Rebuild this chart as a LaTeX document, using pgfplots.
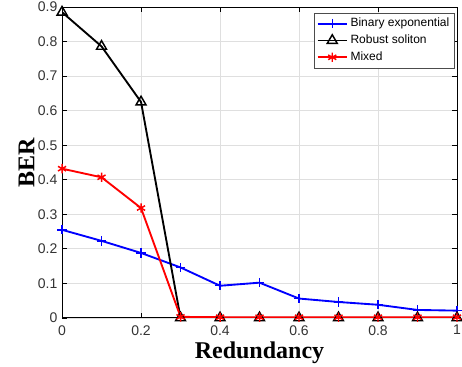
\documentclass[border=0pt]{standalone}
\usepackage{pgfplots}
\pgfplotsset{compat=1.18}
\usepackage{fontspec}
\setmainfont{Liberation Sans}
\newfontfamily\timesfont{Liberation Serif}
\begin{document}
\begin{tikzpicture}
\begin{axis}[
  scale only axis,
  width=296pt, height=233pt,
  xmin=0, xmax=1, ymin=0, ymax=0.9,
  xtick={0,0.2,0.4,0.6,0.8,1},
  ytick={0,0.1,0.2,0.3,0.4,0.5,0.6,0.7,0.8,0.9},
  xticklabels={0,0.2,0.4,0.6,0.8,1},
  yticklabels={0,0.1,0.2,0.3,0.4,0.5,0.6,0.7,0.8,0.9},
  tick align=inside,
  tick pos=both,
  major tick length=4pt,
  tick style={black, line width=0.5pt},
  grid=major,
  grid style={gray!25, line width=0.5pt},
  axis line style={black, line width=0.7pt},
  ticklabel style={font=\fontsize{10.5}{12}\selectfont, color=black!80},
  xticklabel style={yshift=-2pt},
  /pgf/number format/assume math mode=true,
  xlabel={\timesfont\bfseries Redundancy},
  ylabel={\timesfont\bfseries BER},
  xlabel style={font=\fontsize{18}{20}\selectfont, at={(axis description cs:0.5,-0.112)}, anchor=center},
  ylabel style={font=\fontsize{18}{20}\selectfont, at={(axis description cs:-0.09,0.5)}, anchor=center},
  legend style={at={(rel axis cs:0.995,0.982)}, anchor=north east,
    font=\fontsize{9}{10}\selectfont, draw=black!70, line width=0.5pt,
    row sep=0.6pt, inner sep=2pt},
  legend cell align=left,
  legend image code/.code={
    \draw[mark repeat=2,mark phase=2,#1] plot coordinates {(0pt,0pt) (11pt,0pt) (22pt,0pt)};
  },
]
\addplot[blue, line width=1.4pt, mark=+, mark size=3.5pt, mark options={line width=1.1pt}]
 coordinates {(0,0.255) (0.1,0.223) (0.2,0.188) (0.3,0.146) (0.4,0.093) (0.5,0.102) (0.6,0.056) (0.7,0.046) (0.8,0.038) (0.9,0.023) (1,0.021)};
\addlegendentry{Binary exponential}
\addplot[black, line width=1.4pt, mark=triangle, mark size=4.3pt, mark options={line width=1.1pt}]
 coordinates {(0,0.885) (0.1,0.786) (0.2,0.625) (0.3,0) (0.4,0) (0.5,0) (0.6,0) (0.7,0) (0.8,0) (0.9,0) (1,0)};
\addlegendentry{Robust soliton}
\addplot[red, line width=1.4pt, mark=asterisk, mark size=3.5pt, mark options={line width=1.1pt}]
 coordinates {(0,0.432) (0.1,0.407) (0.2,0.318) (0.3,0.003) (0.4,0.002) (0.5,0.002) (0.6,0.002) (0.7,0.002) (0.8,0.002) (0.9,0.002) (1,0.002)};
\addlegendentry{Mixed}
\coordinate (bl) at (rel axis cs:0,0);
\coordinate (tr) at (rel axis cs:1,1);
\end{axis}
\pgfresetboundingbox
\path ([shift={(-46.5pt,-36.75pt)}]bl) rectangle ([shift={(3.75pt,5.25pt)}]tr);
\end{tikzpicture}
\end{document}
